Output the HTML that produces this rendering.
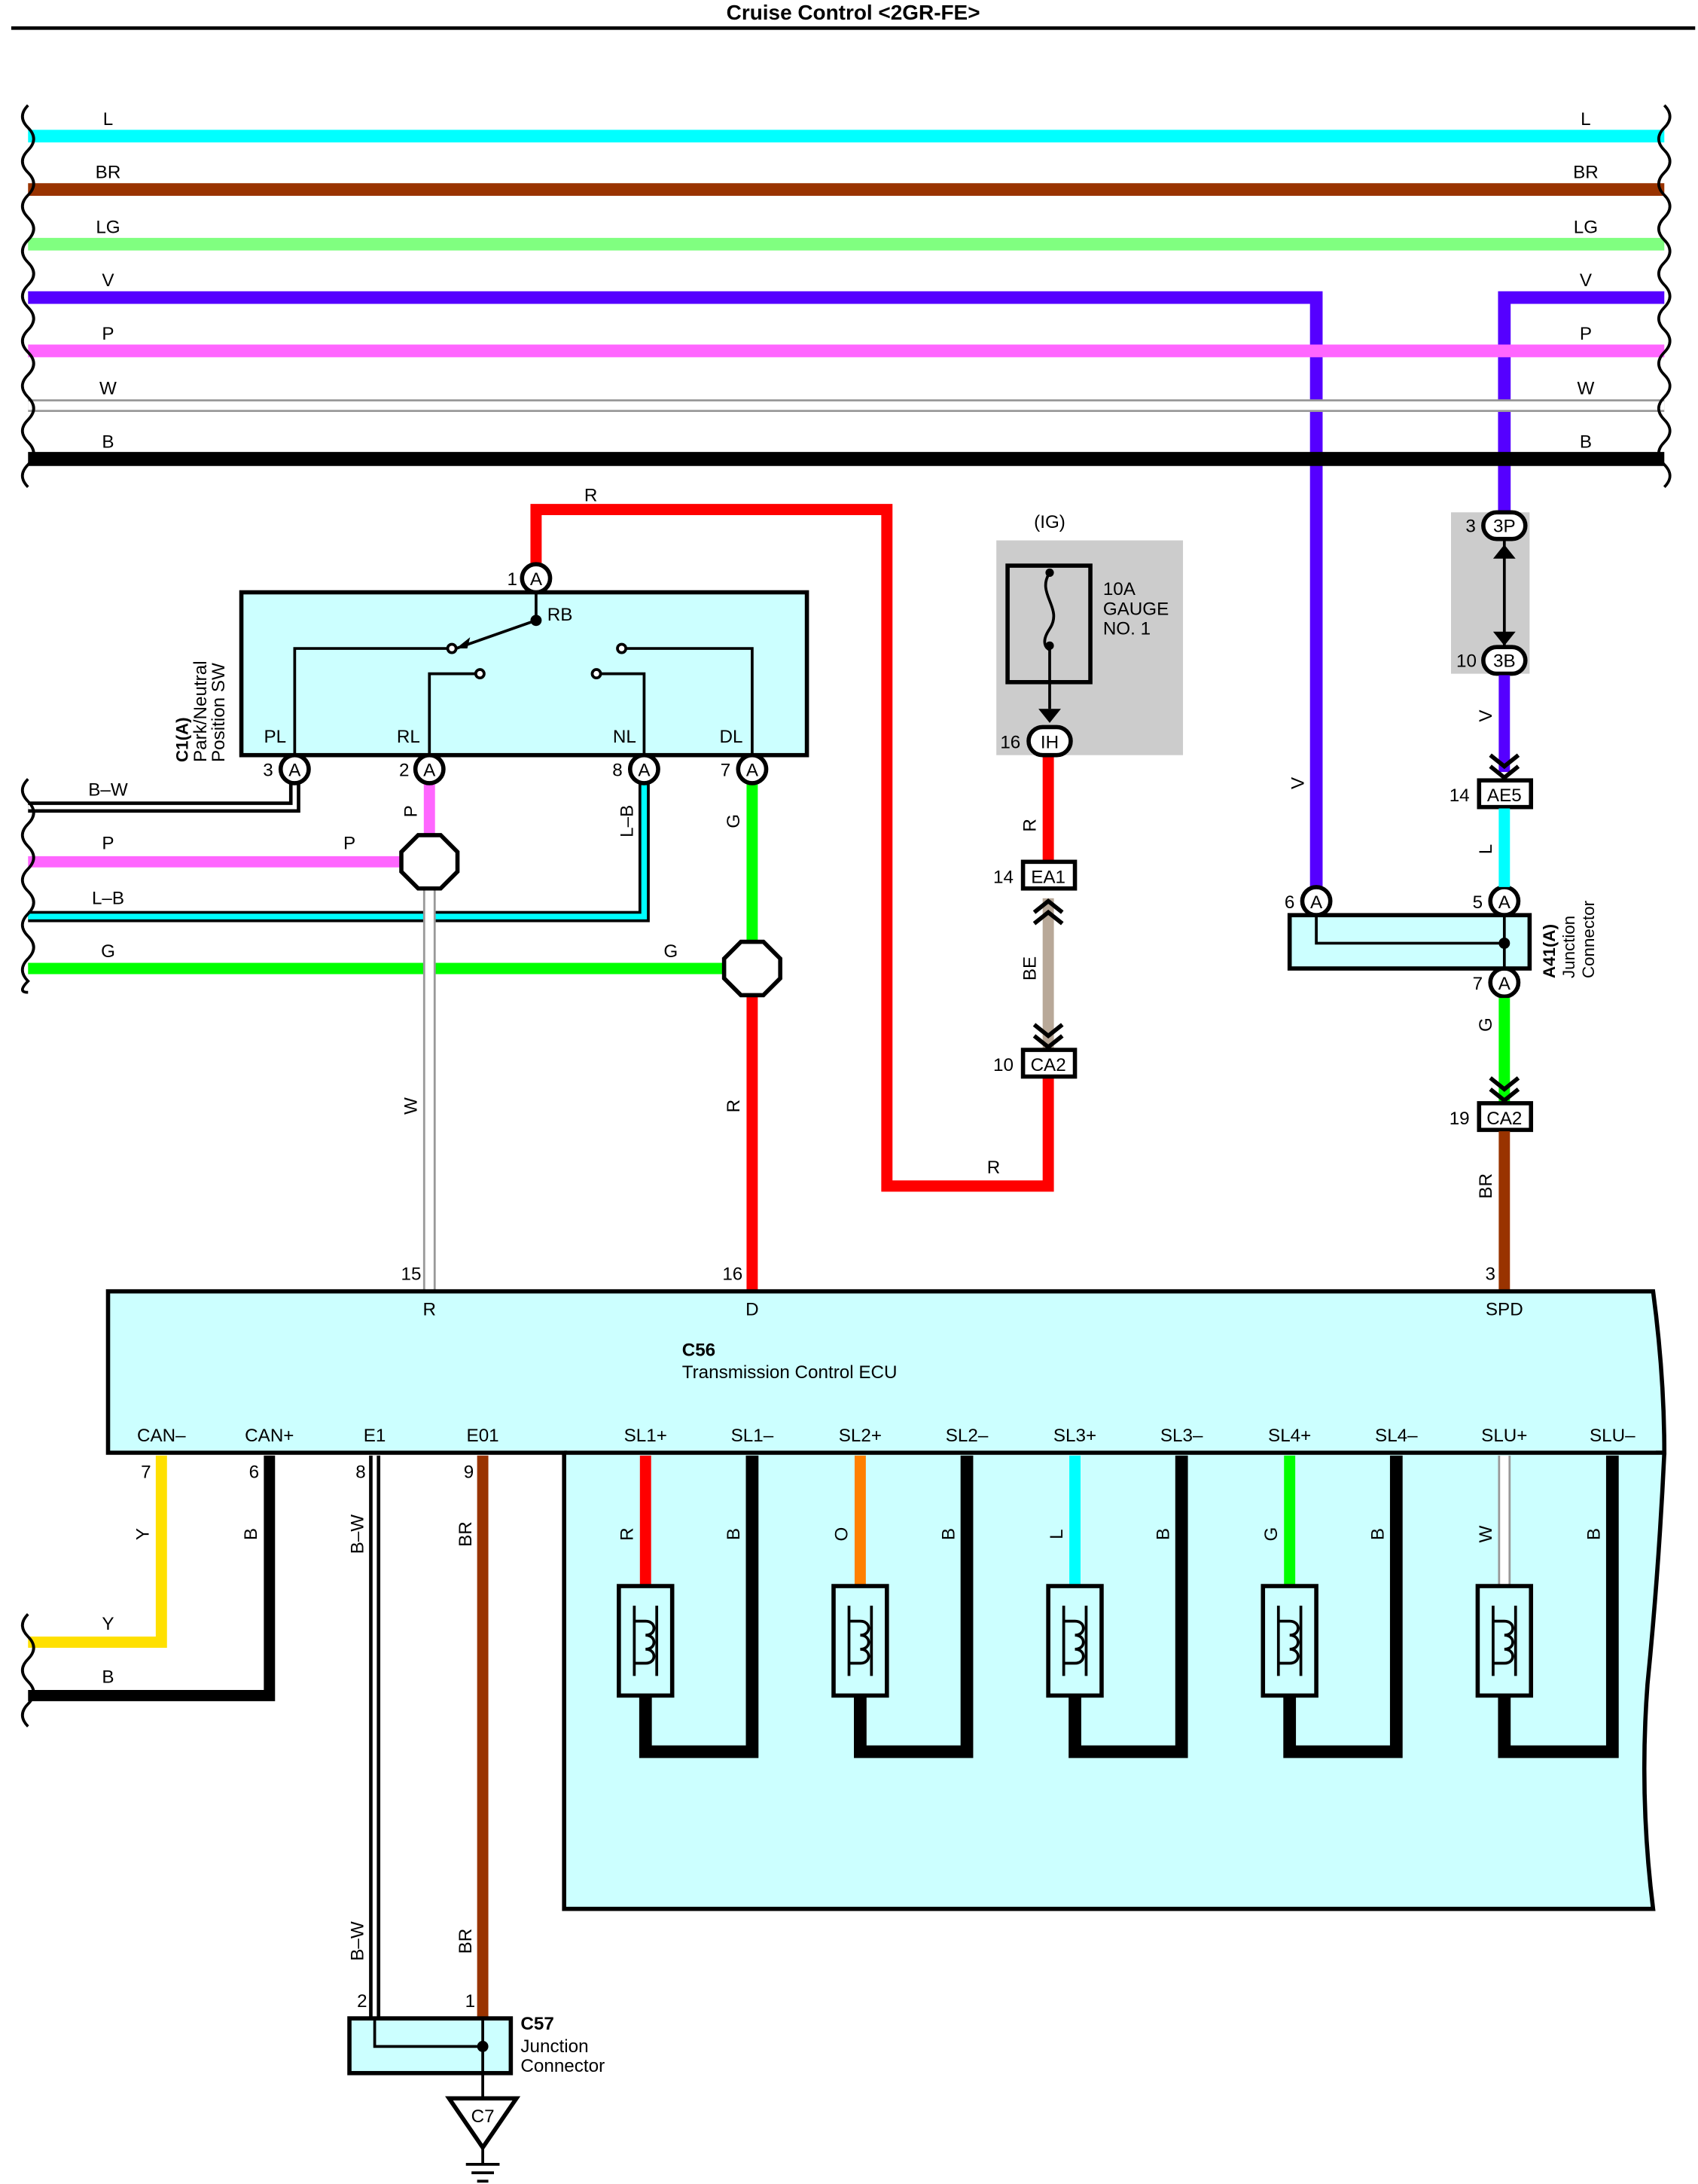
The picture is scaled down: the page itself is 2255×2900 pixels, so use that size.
<!DOCTYPE html>
<html><head><meta charset="utf-8"><style>
html,body{margin:0;padding:0;background:#fff}
svg{display:block}
text{font-family:"Liberation Sans",sans-serif;font-size:13px;fill:#000}
</style></head><body>
<svg width="2255" height="2900" viewBox="0 0 1210 1556" preserveAspectRatio="none" xmlns="http://www.w3.org/2000/svg">
<defs>
<g id="sol"><rect x="-19" y="0" width="38" height="78" fill="#ccffff" stroke="#000" stroke-width="3"/>
<path d="M-8 14 V64 M8 14 V64 M-8 25 h8 M-8 55 h8 M0 25 c8 0 8 10 0 10 c8 0 8 10 0 10 c8 0 8 10 0 10" fill="none" stroke="#000" stroke-width="2"/></g>
</defs>
<text x="608" y="14" text-anchor="middle" style="font-weight:bold;font-size:15px">Cruise Control &lt;2GR-FE&gt;</text>
<line x1="8" y1="20" x2="1208" y2="20" stroke="#000" stroke-width="2.5"/>

<g stroke-width="9" fill="none">
<line x1="20" y1="97" x2="1186" y2="97" stroke="#00ffff"/>
<line x1="20" y1="135" x2="1186" y2="135" stroke="#993300"/>
<line x1="20" y1="174" x2="1186" y2="174" stroke="#80ff80"/>
<path d="M20 212 H938 V642" stroke="#5500ff"/>
<path d="M1186 212 H1072 V380" stroke="#5500ff"/>
<line x1="20" y1="250" x2="1186" y2="250" stroke="#ff66ff"/>
<line x1="20" y1="289" x2="1186" y2="289" stroke="#999" stroke-width="9"/>
<line x1="20" y1="289" x2="1186" y2="289" stroke="#fff" stroke-width="6"/>
<line x1="20" y1="327" x2="1186" y2="327" stroke="#000" stroke-width="10"/>
</g>
<g text-anchor="middle">
<text x="77" y="89">L</text><text x="1130" y="89">L</text>
<text x="77" y="127">BR</text><text x="1130" y="127">BR</text>
<text x="77" y="166">LG</text><text x="1130" y="166">LG</text>
<text x="77" y="204">V</text><text x="1130" y="204">V</text>
<text x="77" y="242">P</text><text x="1130" y="242">P</text>
<text x="77" y="281">W</text><text x="1130" y="281">W</text>
<text x="77" y="319">B</text><text x="1130" y="319">B</text>
</g>
<path d="M20 75 q-8 8 0 16 q8 8 0 16 q-8 8 0 16 q8 8 0 16 q-8 8 0 16 q8 8 0 16 q-8 8 0 16 q8 8 0 16 q-8 8 0 16 q8 8 0 16 q-8 8 0 16 q8 8 0 16 q-8 8 0 16 q8 8 0 16 q-8 8 0 16 q8 8 0 16 q-8 8 0 16" fill="none" stroke="#000" stroke-width="2"/>
<path d="M1186 75 q8 8 0 16 q-8 8 0 16 q8 8 0 16 q-8 8 0 16 q8 8 0 16 q-8 8 0 16 q8 8 0 16 q-8 8 0 16 q8 8 0 16 q-8 8 0 16 q8 8 0 16 q-8 8 0 16 q8 8 0 16 q-8 8 0 16 q8 8 0 16 q-8 8 0 16 q8 8 0 16" fill="none" stroke="#000" stroke-width="2"/>

<path d="M382 405 V363 H632 V845 H747 V760" fill="none" stroke="#ff0000" stroke-width="8"/>
<text x="421" y="357" text-anchor="middle">R</text>
<text x="708" y="836" text-anchor="middle">R</text>
<rect x="710" y="385" width="133" height="153" fill="#cccccc"/>
<text x="748" y="376" text-anchor="middle">(IG)</text>
<rect x="718" y="403" width="59" height="83" fill="none" stroke="#000" stroke-width="3"/>
<path d="M748 408 c-10 15 10 25 0 40 c-8 12 0 15 0 15 V505" fill="none" stroke="#000" stroke-width="2"/>
<circle cx="748" cy="408" r="3"/><circle cx="748" cy="460" r="3"/>
<path d="M740 505 l8 10 l8 -10 z"/>
<text x="786" y="424">10A</text><text x="786" y="438">GAUGE</text><text x="786" y="452">NO. 1</text>
<line x1="747" y1="538" x2="747" y2="616" stroke="#ff0000" stroke-width="8"/>
<line x1="747" y1="640" x2="747" y2="750" stroke="#b8a898" stroke-width="8"/>
<path d="M737 650 l10 -8 l10 8 M737 658 l10 -8 l10 8 M737 730 l10 8 l10 -8 M737 738 l10 8 l10 -8" fill="none" stroke="#000" stroke-width="3"/>
<rect x="733" y="518" width="30" height="20" rx="10" fill="#fff" stroke="#000" stroke-width="3"/><text x="748" y="533" text-anchor="middle">IH</text><text x="720" y="533" text-anchor="middle">16</text>
<rect x="729" y="614" width="37" height="19" fill="#fff" stroke="#000" stroke-width="3"/><text x="747" y="629" text-anchor="middle">EA1</text><text x="715" y="629" text-anchor="middle">14</text>
<rect x="729" y="748" width="37" height="19" fill="#fff" stroke="#000" stroke-width="3"/><text x="747" y="763" text-anchor="middle">CA2</text><text x="715" y="763" text-anchor="middle">10</text>
<text transform="translate(738 588) rotate(-90)" text-anchor="middle">R</text>
<text transform="translate(738 690) rotate(-90)" text-anchor="middle">BE</text>

<rect x="172" y="422" width="403" height="116" fill="#ccffff" stroke="#000" stroke-width="3"/>
<path d="M382 420 V440 M210 538 V462 H322 M306 538 V480 H342 M459 538 V480 H425 M536 538 V462 H443 M325 462 L382 442" fill="none" stroke="#000" stroke-width="2"/>
<path d="M325 462 l10 -8 l-2 8 z" />
<g fill="#fff" stroke="#000" stroke-width="2"><circle cx="322" cy="462" r="3"/><circle cx="342" cy="480" r="3"/><circle cx="425" cy="480" r="3"/><circle cx="443" cy="462" r="3"/><circle cx="382" cy="442" r="3" fill="#000"/></g>
<text x="390" y="442">RB</text>
<text x="196" y="529" text-anchor="middle">PL</text><text x="291" y="529" text-anchor="middle">RL</text>
<text x="445" y="529" text-anchor="middle">NL</text><text x="521" y="529" text-anchor="middle">DL</text>
<g style="font-size:12px"><text transform="translate(134 543) rotate(-90)" style="font-weight:bold;font-size:12px">C1(A)</text>
<text transform="translate(147 543) rotate(-90)">Park/Neutral</text>
<text transform="translate(160 543) rotate(-90)">Position SW</text></g>

<path d="M210 550 V575 H20" fill="none" stroke="#000" stroke-width="8"/>
<path d="M210 550 V575 H20" fill="none" stroke="#fff" stroke-width="3"/>
<text x="77" y="567" text-anchor="middle">B–W</text>
<path d="M306 550 V600" stroke="#ff66ff" stroke-width="8"/>
<line x1="20" y1="614" x2="290" y2="614" stroke="#ff66ff" stroke-width="8"/>
<text x="77" y="605" text-anchor="middle">P</text><text x="249" y="605" text-anchor="middle">P</text>
<text transform="translate(297 578) rotate(-90)" text-anchor="middle">P</text>
<path d="M459 550 V653 H20" fill="none" stroke="#000" stroke-width="8"/>
<path d="M459 550 V653 H20" fill="none" stroke="#00ffff" stroke-width="4"/>
<text x="77" y="644" text-anchor="middle">L–B</text>
<text transform="translate(451 585) rotate(-90)" text-anchor="middle">L–B</text>
<line x1="536" y1="550" x2="536" y2="672" stroke="#00ff00" stroke-width="8"/>
<line x1="20" y1="690" x2="518" y2="690" stroke="#00ff00" stroke-width="8"/>
<text x="77" y="682" text-anchor="middle">G</text><text x="478" y="682" text-anchor="middle">G</text>
<text transform="translate(527 585) rotate(-90)" text-anchor="middle">G</text>
<line x1="306" y1="632" x2="306" y2="920" stroke="#999" stroke-width="9"/>
<line x1="306" y1="632" x2="306" y2="920" stroke="#fff" stroke-width="6"/>
<text transform="translate(297 788) rotate(-90)" text-anchor="middle">W</text>
<line x1="536" y1="708" x2="536" y2="920" stroke="#ff0000" stroke-width="8"/>
<text transform="translate(527 788) rotate(-90)" text-anchor="middle">R</text>
<polygon points="298,595 314,595 326,607 326,621 314,633 298,633 286,621 286,607" fill="#fff" stroke="#000" stroke-width="3"/>
<polygon points="528,671 544,671 556,683 556,697 544,709 528,709 516,697 516,683" fill="#fff" stroke="#000" stroke-width="3"/>
<path d="M20 555 q-8 8 0 16 q8 8 0 16 q-8 8 0 16 q8 8 0 16 q-8 8 0 16 q8 8 0 16 q-8 8 0 16 q8 8 0 16 q-8 8 0 16 q-8 8 0 8" fill="none" stroke="#000" stroke-width="2"/>

<g fill="#fff" stroke="#000" stroke-width="3">
<circle cx="382" cy="412" r="10"/><circle cx="210" cy="548" r="10"/><circle cx="306" cy="548" r="10"/><circle cx="459" cy="548" r="10"/><circle cx="536" cy="548" r="10"/>
<circle cx="938" cy="642" r="10"/><circle cx="1072" cy="642" r="10"/><circle cx="1072" cy="700" r="10"/>
</g>
<g text-anchor="middle" style="font-size:12px">
<text x="382" y="417">A</text><text x="210" y="553">A</text><text x="306" y="553">A</text><text x="459" y="553">A</text><text x="536" y="553">A</text>
<text x="938" y="647">A</text><text x="1072" y="647">A</text><text x="1072" y="705">A</text>
</g>
<text x="365" y="417" text-anchor="middle">1</text><text x="191" y="553" text-anchor="middle">3</text><text x="288" y="553" text-anchor="middle">2</text><text x="440" y="553" text-anchor="middle">8</text><text x="517" y="553" text-anchor="middle">7</text>

<text transform="translate(929 558) rotate(-90)" text-anchor="middle">V</text>
<rect x="1034" y="365" width="56" height="115" fill="#cccccc"/>
<line x1="1072" y1="385" x2="1072" y2="462" stroke="#000" stroke-width="2"/>
<path d="M1064 398 l8 -10 l8 10 z M1064 450 l8 10 l8 -10 z"/>
<rect x="1057" y="365" width="30" height="19" rx="9.5" fill="#fff" stroke="#000" stroke-width="3"/><text x="1072" y="379" text-anchor="middle">3P</text><text x="1048" y="379" text-anchor="middle">3</text>
<rect x="1057" y="461" width="30" height="19" rx="9.5" fill="#fff" stroke="#000" stroke-width="3"/><text x="1072" y="475" text-anchor="middle">3B</text><text x="1045" y="475" text-anchor="middle">10</text>
<line x1="1072" y1="481" x2="1072" y2="550" stroke="#5500ff" stroke-width="8"/>
<text transform="translate(1063 510) rotate(-90)" text-anchor="middle">V</text>
<path d="M1062 538 l10 8 l10 -8 M1062 546 l10 8 l10 -8" fill="none" stroke="#000" stroke-width="3"/>
<rect x="1054" y="556" width="37" height="19" fill="#fff" stroke="#000" stroke-width="3"/><text x="1072" y="571" text-anchor="middle">AE5</text><text x="1040" y="571" text-anchor="middle">14</text>
<line x1="1072" y1="576" x2="1072" y2="632" stroke="#00ffff" stroke-width="8"/>
<text transform="translate(1063 605) rotate(-90)" text-anchor="middle">L</text>
<rect x="919" y="652" width="171" height="38" fill="#ccffff" stroke="#000" stroke-width="3"/>
<path d="M938 652 V672 H1072 M1072 652 V690" fill="none" stroke="#000" stroke-width="2"/>
<circle cx="1072" cy="672" r="4"/>
<text x="919" y="647" text-anchor="middle">6</text><text x="1053" y="647" text-anchor="middle">5</text><text x="1053" y="705" text-anchor="middle">7</text>
<text transform="translate(1108 697) rotate(-90)" style="font-weight:bold;font-size:12px">A41(A)</text>
<text transform="translate(1122 697) rotate(-90)" style="font-size:12px">Junction</text>
<text transform="translate(1136 697) rotate(-90)" style="font-size:12px">Connector</text>
<line x1="1072" y1="711" x2="1072" y2="785" stroke="#00ff00" stroke-width="8"/>
<text transform="translate(1063 730) rotate(-90)" text-anchor="middle">G</text>
<path d="M1062 768 l10 8 l10 -8 M1062 776 l10 8 l10 -8" fill="none" stroke="#000" stroke-width="3"/>
<rect x="1054" y="786" width="37" height="19" fill="#fff" stroke="#000" stroke-width="3"/><text x="1072" y="801" text-anchor="middle">CA2</text><text x="1040" y="801" text-anchor="middle">19</text>
<line x1="1072" y1="806" x2="1072" y2="920" stroke="#993300" stroke-width="8"/>
<text transform="translate(1063 845) rotate(-90)" text-anchor="middle">BR</text>

<path d="M77 920 H1178 q8 60 8 115 H77 Z" fill="#ccffff" stroke="#000" stroke-width="3"/>
<path d="M402 1035 V1360 H1178 q-10 -80 -4 -160 q8 -80 12 -165" fill="#ccffff" stroke="#000" stroke-width="3"/>
<rect x="404" y="1030" width="776" height="8" fill="#ccffff"/>
<line x1="402" y1="1035" x2="1186" y2="1035" stroke="#000" stroke-width="3"/>
<text x="293" y="912" text-anchor="middle">15</text><text x="522" y="912" text-anchor="middle">16</text><text x="1062" y="912" text-anchor="middle">3</text>
<text x="306" y="937" text-anchor="middle">R</text><text x="536" y="937" text-anchor="middle">D</text><text x="1072" y="937" text-anchor="middle">SPD</text>
<text x="486" y="966" style="font-weight:bold">C56</text>
<text x="486" y="982">Transmission Control ECU</text>
<g text-anchor="middle">
<text x="115" y="1027">CAN–</text><text x="192" y="1027">CAN+</text><text x="267" y="1027">E1</text><text x="344" y="1027">E01</text>
<text x="460" y="1027">SL1+</text><text x="536" y="1027">SL1–</text><text x="613" y="1027">SL2+</text><text x="689" y="1027">SL2–</text>
<text x="766" y="1027">SL3+</text><text x="842" y="1027">SL3–</text><text x="919" y="1027">SL4+</text><text x="995" y="1027">SL4–</text>
<text x="1072" y="1027">SLU+</text><text x="1149" y="1027">SLU–</text>
</g>

<g fill="none" stroke="#000" stroke-width="9">
<path d="M460 1208 V1248 H536 V1037"/><path d="M613 1208 V1248 H689 V1037"/><path d="M766 1208 V1248 H842 V1037"/><path d="M919 1208 V1248 H995 V1037"/><path d="M1072 1208 V1248 H1149 V1037"/>
</g>
<line x1="460" y1="1037" x2="460" y2="1130" stroke="#ff0000" stroke-width="8"/>
<line x1="613" y1="1037" x2="613" y2="1130" stroke="#ff8000" stroke-width="8"/>
<line x1="766" y1="1037" x2="766" y2="1130" stroke="#00ffff" stroke-width="8"/>
<line x1="919" y1="1037" x2="919" y2="1130" stroke="#00ff00" stroke-width="8"/>
<line x1="1072" y1="1037" x2="1072" y2="1130" stroke="#999" stroke-width="9"/>
<line x1="1072" y1="1037" x2="1072" y2="1130" stroke="#fff" stroke-width="6"/>
<use href="#sol" x="460" y="1130"/><use href="#sol" x="613" y="1130"/><use href="#sol" x="766" y="1130"/><use href="#sol" x="919" y="1130"/><use href="#sol" x="1072" y="1130"/>
<g text-anchor="middle">
<text transform="translate(451 1093) rotate(-90)">R</text><text transform="translate(527 1093) rotate(-90)">B</text>
<text transform="translate(604 1093) rotate(-90)">O</text><text transform="translate(680 1093) rotate(-90)">B</text>
<text transform="translate(757 1093) rotate(-90)">L</text><text transform="translate(833 1093) rotate(-90)">B</text>
<text transform="translate(910 1093) rotate(-90)">G</text><text transform="translate(986 1093) rotate(-90)">B</text>
<text transform="translate(1063 1093) rotate(-90)">W</text><text transform="translate(1140 1093) rotate(-90)">B</text>
</g>

<path d="M115 1037 V1170 H20" fill="none" stroke="#ffe000" stroke-width="8"/>
<path d="M192 1037 V1208 H20" fill="none" stroke="#000" stroke-width="8"/>
<text x="104" y="1053" text-anchor="middle">7</text><text x="181" y="1053" text-anchor="middle">6</text><text x="257" y="1053" text-anchor="middle">8</text><text x="334" y="1053" text-anchor="middle">9</text>
<text transform="translate(106 1093) rotate(-90)" text-anchor="middle">Y</text>
<text transform="translate(183 1093) rotate(-90)" text-anchor="middle">B</text>
<text x="77" y="1161" text-anchor="middle">Y</text><text x="77" y="1199" text-anchor="middle">B</text>
<path d="M20 1150 q-8 8 0 16 q8 8 0 16 q-8 8 0 16 q8 8 0 16 q-8 8 0 16" fill="none" stroke="#000" stroke-width="2"/>
<line x1="267" y1="1037" x2="267" y2="1440" stroke="#000" stroke-width="8"/>
<line x1="267" y1="1037" x2="267" y2="1440" stroke="#fff" stroke-width="3"/>
<line x1="344" y1="1037" x2="344" y2="1440" stroke="#993300" stroke-width="8"/>
<text transform="translate(259 1093) rotate(-90)" text-anchor="middle">B–W</text>
<text transform="translate(336 1093) rotate(-90)" text-anchor="middle">BR</text>
<text transform="translate(259 1383) rotate(-90)" text-anchor="middle">B–W</text>
<text transform="translate(336 1383) rotate(-90)" text-anchor="middle">BR</text>
<text x="258" y="1430" text-anchor="middle">2</text><text x="335" y="1430" text-anchor="middle">1</text>
<rect x="249" y="1438" width="115" height="39" fill="#ccffff" stroke="#000" stroke-width="3"/>
<path d="M267 1438 V1458 H344 M344 1438 V1495" fill="none" stroke="#000" stroke-width="2"/>
<circle cx="344" cy="1458" r="4"/>
<text x="371" y="1446" style="font-weight:bold">C57</text><text x="371" y="1462">Junction</text><text x="371" y="1476">Connector</text>
<polygon points="320,1495 368,1495 344,1530" fill="#fff" stroke="#000" stroke-width="3"/>
<text x="344" y="1512" text-anchor="middle">C7</text>
<path d="M344 1530 V1542 M332 1542 H356 M336 1548 H352 M340 1554 H348" stroke="#000" stroke-width="2"/>
</svg>
</body></html>
